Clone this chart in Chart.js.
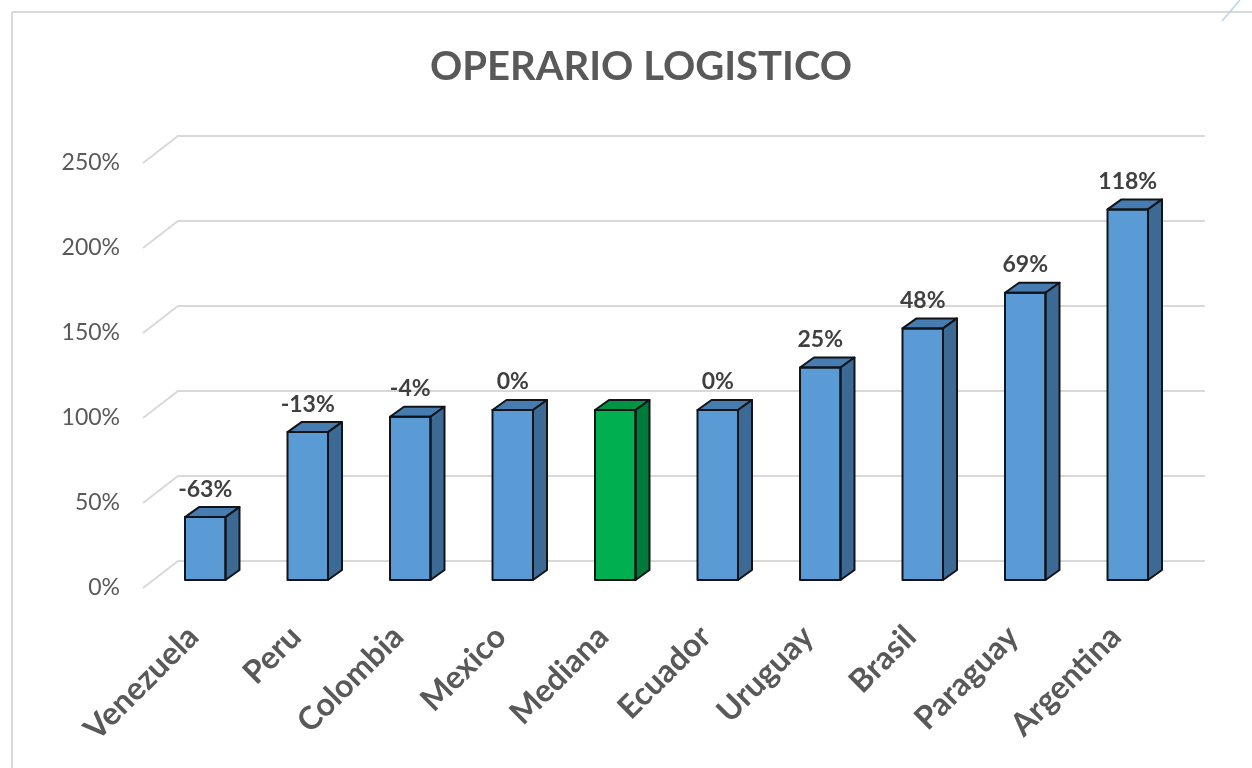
<!DOCTYPE html>
<html><head><meta charset="utf-8">
<script src="https://cdn.jsdelivr.net/npm/chart.js@4"></script>
<style>html,body{margin:0;padding:0;background:#fff;overflow:hidden}canvas{display:block}</style>
</head><body>
<canvas id="c" width="1252" height="768"></canvas>
<script>
const chartTitle = "OPERARIO LOGISTICO";
const categories = ["Venezuela","Peru","Colombia","Mexico","Mediana","Ecuador","Uruguay","Brasil","Paraguay","Argentina"];
const values = [37, 87, 96, 100, 100, 100, 125, 148, 169, 218];
const changeLabels = ["-63%","-13%","-4%","0%","","0%","25%","48%","69%","118%"];
const yTickValues = [0, 50, 100, 150, 200, 250];
const frontColors = ["#5b9bd5","#5b9bd5","#5b9bd5","#5b9bd5","#00b050","#5b9bd5","#5b9bd5","#5b9bd5","#5b9bd5","#5b9bd5"];
const sideColors  = ["#3d6a94","#3d6a94","#3d6a94","#3d6a94","#007a38","#3d6a94","#3d6a94","#3d6a94","#3d6a94","#3d6a94"];
const topColors   = ["#477cb0","#477cb0","#477cb0","#477cb0","#009444","#477cb0","#477cb0","#477cb0","#477cb0","#477cb0"];

const DX = 14, DY = -10;        // bar depth
const GFX = -11, GFY = 8;       // front edge of floor/wall from bar plane
const GBX = 24, GBY = -19;      // back wall from bar plane

const deco = {
  id: 'deco',
  beforeDraw(chart) {
    const ctx = chart.ctx;
    ctx.save();
    ctx.fillStyle = '#ffffff';
    ctx.fillRect(0, 0, chart.width, chart.height);
    ctx.strokeStyle = '#d9d9d9';
    ctx.lineWidth = 2;
    ctx.beginPath();
    ctx.moveTo(12, 12); ctx.lineTo(chart.width, 12);
    ctx.moveTo(12, 12); ctx.lineTo(12, chart.height);
    ctx.stroke();
    ctx.strokeStyle = '#b9d3ec';
    ctx.lineWidth = 1.5;
    ctx.beginPath();
    ctx.moveTo(1222, 21); ctx.lineTo(1240, 0);
    ctx.stroke();
    // title
    ctx.fillStyle = '#595959';
    ctx.font = 'bold 40px Lato';
    ctx.textAlign = 'center';
    ctx.textBaseline = 'alphabetic';
    ctx.fillText(chartTitle, 641, 80);
    ctx.restore();
  },
  beforeDatasetsDraw(chart) {
    const ctx = chart.ctx, y = chart.scales.y, a = chart.chartArea;
    ctx.save();
    ctx.strokeStyle = '#d9d9d9';
    ctx.lineWidth = 2;
    yTickValues.forEach(v => {
      const py = y.getPixelForValue(v);
      ctx.beginPath();
      ctx.moveTo(a.left + GFX, py + GFY);
      ctx.lineTo(a.left + GBX, py + GBY);
      ctx.lineTo(a.right + 26, py + GBY);
      ctx.stroke();
    });
    ctx.restore();
  },
  afterDatasetsDraw(chart) {
    const ctx = chart.ctx;
    const meta = chart.getDatasetMeta(0);
    ctx.save();
    ctx.lineJoin = 'round';
    meta.data.forEach((el, i) => {
      const p = el.getProps(['x', 'y', 'base', 'width'], true);
      const l = p.x - p.width / 2, r = p.x + p.width / 2, t = p.y, b = p.base;
      ctx.lineWidth = 2;
      ctx.strokeStyle = '#111418';
      ctx.fillStyle = topColors[i];
      ctx.beginPath();
      ctx.moveTo(l, t); ctx.lineTo(l + DX, t + DY); ctx.lineTo(r + DX, t + DY); ctx.lineTo(r, t); ctx.closePath();
      ctx.fill(); ctx.stroke();
      ctx.fillStyle = sideColors[i];
      ctx.beginPath();
      ctx.moveTo(r, t); ctx.lineTo(r + DX, t + DY); ctx.lineTo(r + DX, b + DY); ctx.lineTo(r, b); ctx.closePath();
      ctx.fill(); ctx.stroke();
      ctx.strokeRect(l, t, r - l, b - t);
      if (changeLabels[i]) {
        ctx.fillStyle = '#404040';
        ctx.font = 'bold 23px Lato';
        ctx.textAlign = 'center';
        ctx.textBaseline = 'middle';
        ctx.fillText(changeLabels[i], p.x, t - 28);
      }
    });
    ctx.restore();
  }
};

new Chart(document.getElementById('c'), {
  type: 'bar',
  data: {
    labels: categories,
    datasets: [{
      data: values,
      backgroundColor: frontColors,
      borderWidth: 0,
      barPercentage: 0.395,
      categoryPercentage: 1.0
    }]
  },
  options: {
    responsive: false,
    animation: false,
    events: [],
    layout: { padding: { left: 0, right: 73, top: 155, bottom: 0 } },
    plugins: {
      legend: { display: false },
      tooltip: { enabled: false },
      title: { display: false }
    },
    scales: {
      x: {
        grid: { display: false, drawTicks: false },
        border: { display: false },
        ticks: {
          autoSkip: false,
          minRotation: 45,
          maxRotation: 45,
          padding: 38,
          labelOffset: -12,
          color: '#595959',
          font: { family: 'Lato', size: 32, weight: 'bold' }
        },
        afterFit(s) { s.height = 188; }
      },
      y: {
        min: 0,
        max: 250,
        grid: { display: false, drawTicks: false },
        border: { display: false },
        afterBuildTicks(s) { s.ticks = yTickValues.map(v => ({ value: v })); },
        ticks: {
          padding: 34,
          labelOffset: 8,
          color: '#595959',
          font: { family: 'Lato', size: 23 },
          callback: v => v + '%'
        },
        afterFit(s) { s.width = 154; }
      }
    }
  },
  plugins: [deco]
});
</script>
</body></html>
